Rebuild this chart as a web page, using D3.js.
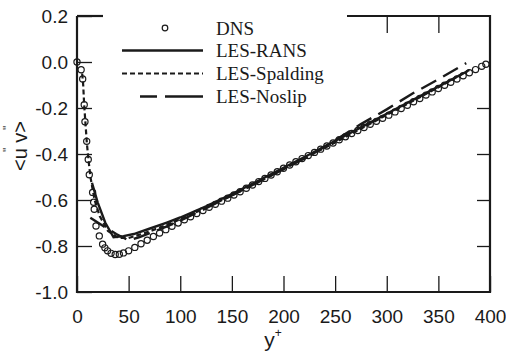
<!DOCTYPE html>
<html><head><meta charset="utf-8">
<script src="https://cdn.jsdelivr.net/npm/d3@7"></script>
<style>body{margin:0;background:#fff}svg{display:block}</style>
</head><body>
<svg id="c" width="506" height="358"></svg>
<script>
const xTicks = [0,50,100,150,200,250,300,350,400];
const yTicks = [0.2,0.0,-0.2,-0.4,-0.6,-0.8,-1.0];
const yTickLabels = ["0.2","0.0","-0.2","-0.4","-0.6","-0.8","-1.0"];
const topTicks = [300,350];
const rightTicks = [-0.2,-0.4,-0.6,-0.8];
const seriesNames = ["DNS","LES-RANS","LES-Spalding","LES-Noslip"];

const dnsY  = [0,4,5.5,7,7.7,9.4,10.9,11.9,15.1,16.1,16.7,18.4,21.6,24.8,27,29.6,33,37,41,45,
  50,56,62,68,74,80,86,92,98,104,110,116,122,128,134,140,146,152,158,164,170,176,182,188,194,200,206,212,218,224,230,236,242,248,254,260,266,272,278,284,290,296,302,308,314,320,326,332,338,344,350,356,362,368,374,380,386,392,396];
const dnsUV = [0,-0.034,-0.074,-0.186,-0.26,-0.345,-0.424,-0.49,-0.567,-0.61,-0.64,-0.713,-0.756,-0.792,-0.808,-0.821,-0.832,-0.837,-0.836,-0.83,
  -0.821,-0.806,-0.790,-0.775,-0.759,-0.744,-0.729,-0.714,-0.700,-0.686,-0.673,-0.659,-0.646,-0.632,-0.619,-0.605,-0.592,-0.578,-0.564,-0.549,-0.535,-0.520,-0.506,-0.491,-0.477,-0.462,-0.448,-0.434,-0.420,-0.407,-0.393,-0.379,-0.365,-0.352,-0.338,-0.325,-0.311,-0.298,-0.285,-0.271,-0.258,-0.245,-0.231,-0.217,-0.202,-0.188,-0.173,-0.159,-0.144,-0.130,-0.115,-0.101,-0.088,-0.074,-0.060,-0.047,-0.033,-0.019,-0.010];

const ransY  = [14.5,20,27.3,35.4,45,55,70,87,100,125,150,175,200,225,250,275,300,325,350,378];
const ransUV = [-0.525,-0.61,-0.698,-0.762,-0.757,-0.748,-0.725,-0.698,-0.676,-0.628,-0.574,-0.518,-0.460,-0.402,-0.343,-0.284,-0.225,-0.166,-0.107,-0.040];

const spaldingY  = [5,6,7,9.5,11,13,17,22,30,40,50,65,80,100,125,150,175,200,225,250,275,300,325,350,380];
const spaldingUV = [-0.05,-0.10,-0.19,-0.35,-0.42,-0.50,-0.60,-0.67,-0.735,-0.765,-0.765,-0.745,-0.72,-0.684,-0.634,-0.580,-0.524,-0.466,-0.408,-0.350,-0.290,-0.230,-0.170,-0.110,-0.035];

const noslipY  = [12.9,25,38,50,60,80,100,125,150,175,200,225,250,275,300,325,350,377];
const noslipUV = [-0.677,-0.712,-0.748,-0.776,-0.762,-0.728,-0.690,-0.636,-0.580,-0.524,-0.466,-0.409,-0.340,-0.270,-0.206,-0.137,-0.075,-0.005];

const svg = d3.select("#c");
const L = 77, R = 490, T = 16, B = 292;
const x = d3.scaleLinear().domain([0,400]).range([L,R]);
const y = d3.scaleLinear().domain([-1.0,0.2]).range([B,T]);
const ink = "#1a1a1a";

// axes
const gx = svg.append("g").attr("transform",`translate(0,${B})`)
  .call(d3.axisBottom(x).tickValues(xTicks).tickSize(-16).tickPadding(18).tickFormat(d=>String(d)));
const gy = svg.append("g").attr("transform",`translate(${L},0)`)
  .call(d3.axisLeft(y).tickValues(yTicks).tickSize(-15).tickPadding(9).tickFormat((d,i)=>yTickLabels[i]));
const gt = svg.append("g").attr("transform",`translate(0,${T})`)
  .call(d3.axisTop(x).tickValues(topTicks).tickSize(-17).tickFormat(""));
const gr = svg.append("g").attr("transform",`translate(${R},0)`)
  .call(d3.axisRight(y).tickValues(rightTicks).tickSize(-13).tickFormat(""));
[gx,gy,gt,gr].forEach(g=>{
  g.select(".domain").remove();
  g.selectAll(".tick line").attr("stroke",ink).attr("stroke-width",1.3);
  g.selectAll(".tick text").attr("fill",ink).style("font-family","'Liberation Sans',Arial,sans-serif").style("font-size","19px");
});

// frame
const frame = svg.append("g").attr("stroke",ink).attr("stroke-width",2.2).attr("fill","none");
frame.append("path").attr("d",`M${x(0)},${y(0.2)}V${y(-1)}H${x(400)}V${y(0.2)}H${x(261.5)}`);
frame.append("line").attr("x1",x(0)).attr("x2",x(25.2)).attr("y1",y(0.2)).attr("y2",y(0.2));

// lines
const line = d3.line().x(d=>x(d[0])).y(d=>y(d[1]));
const zip = (a,b)=>a.map((v,i)=>[v,b[i]]);
svg.append("path").datum(zip(noslipY,noslipUV)).attr("d",line).attr("fill","none").attr("stroke",ink).attr("stroke-width",2.4).attr("stroke-dasharray","17,8");
svg.append("path").datum(zip(spaldingY,spaldingUV)).attr("d",line).attr("fill","none").attr("stroke",ink).attr("stroke-width",2.2).attr("stroke-dasharray","5,3");
svg.append("path").datum(zip(ransY,ransUV)).attr("d",line).attr("fill","none").attr("stroke",ink).attr("stroke-width",2.4);

// DNS circles
svg.append("g").selectAll("circle").data(zip(dnsY,dnsUV)).join("circle")
  .attr("cx",d=>x(d[0])).attr("cy",d=>y(d[1])).attr("r",3.1)
  .attr("fill","none").attr("stroke",ink).attr("stroke-width",1.2);

// legend
const lg = svg.append("g").style("font-family","'Liberation Serif','Times New Roman',serif").style("font-size","19px").attr("fill",ink);
const rows = [28, 50.5, 73.5, 96.5];
lg.append("circle").attr("cx",165).attr("cy",rows[0]).attr("r",2.8).attr("fill","none").attr("stroke",ink).attr("stroke-width",1.2);
lg.append("line").attr("x1",122).attr("x2",203).attr("y1",rows[1]).attr("y2",rows[1]).attr("stroke",ink).attr("stroke-width",2.4);
lg.append("line").attr("x1",122).attr("x2",203).attr("y1",rows[2]).attr("y2",rows[2]).attr("stroke",ink).attr("stroke-width",2.2).attr("stroke-dasharray","5,3");
lg.append("line").attr("x1",140).attr("x2",203).attr("y1",rows[3]).attr("y2",rows[3]).attr("stroke",ink).attr("stroke-width",2.4).attr("stroke-dasharray","17,8,38,8");
seriesNames.forEach((n,i)=>{
  lg.append("text").attr("x",216).attr("y",rows[i]+6.5).text(n);
});

// axis titles
const xt = svg.append("text").attr("x",273).attr("y",347).attr("text-anchor","middle")
  .style("font-family","'Liberation Sans',Arial,sans-serif").style("font-size","21px").attr("fill",ink);
xt.append("tspan").text("y");
xt.append("tspan").attr("dy",-10).style("font-size","12px").text("+");

const yt = svg.append("g").attr("transform","translate(27,146) rotate(-90)");
yt.append("text").attr("text-anchor","middle").attr("x",0).attr("y",0)
  .style("font-family","'Liberation Sans',Arial,sans-serif").style("font-size","20px").attr("fill",ink).text("<u v>");
yt.append("text").attr("x",16).attr("y",-15).style("font-family","'Liberation Sans',Arial,sans-serif").style("font-size","12px").attr("fill",ink).text("\"");
yt.append("text").attr("x",-6).attr("y",-15).style("font-family","'Liberation Sans',Arial,sans-serif").style("font-size","12px").attr("fill",ink).text("\"");
</script>
</body></html>
